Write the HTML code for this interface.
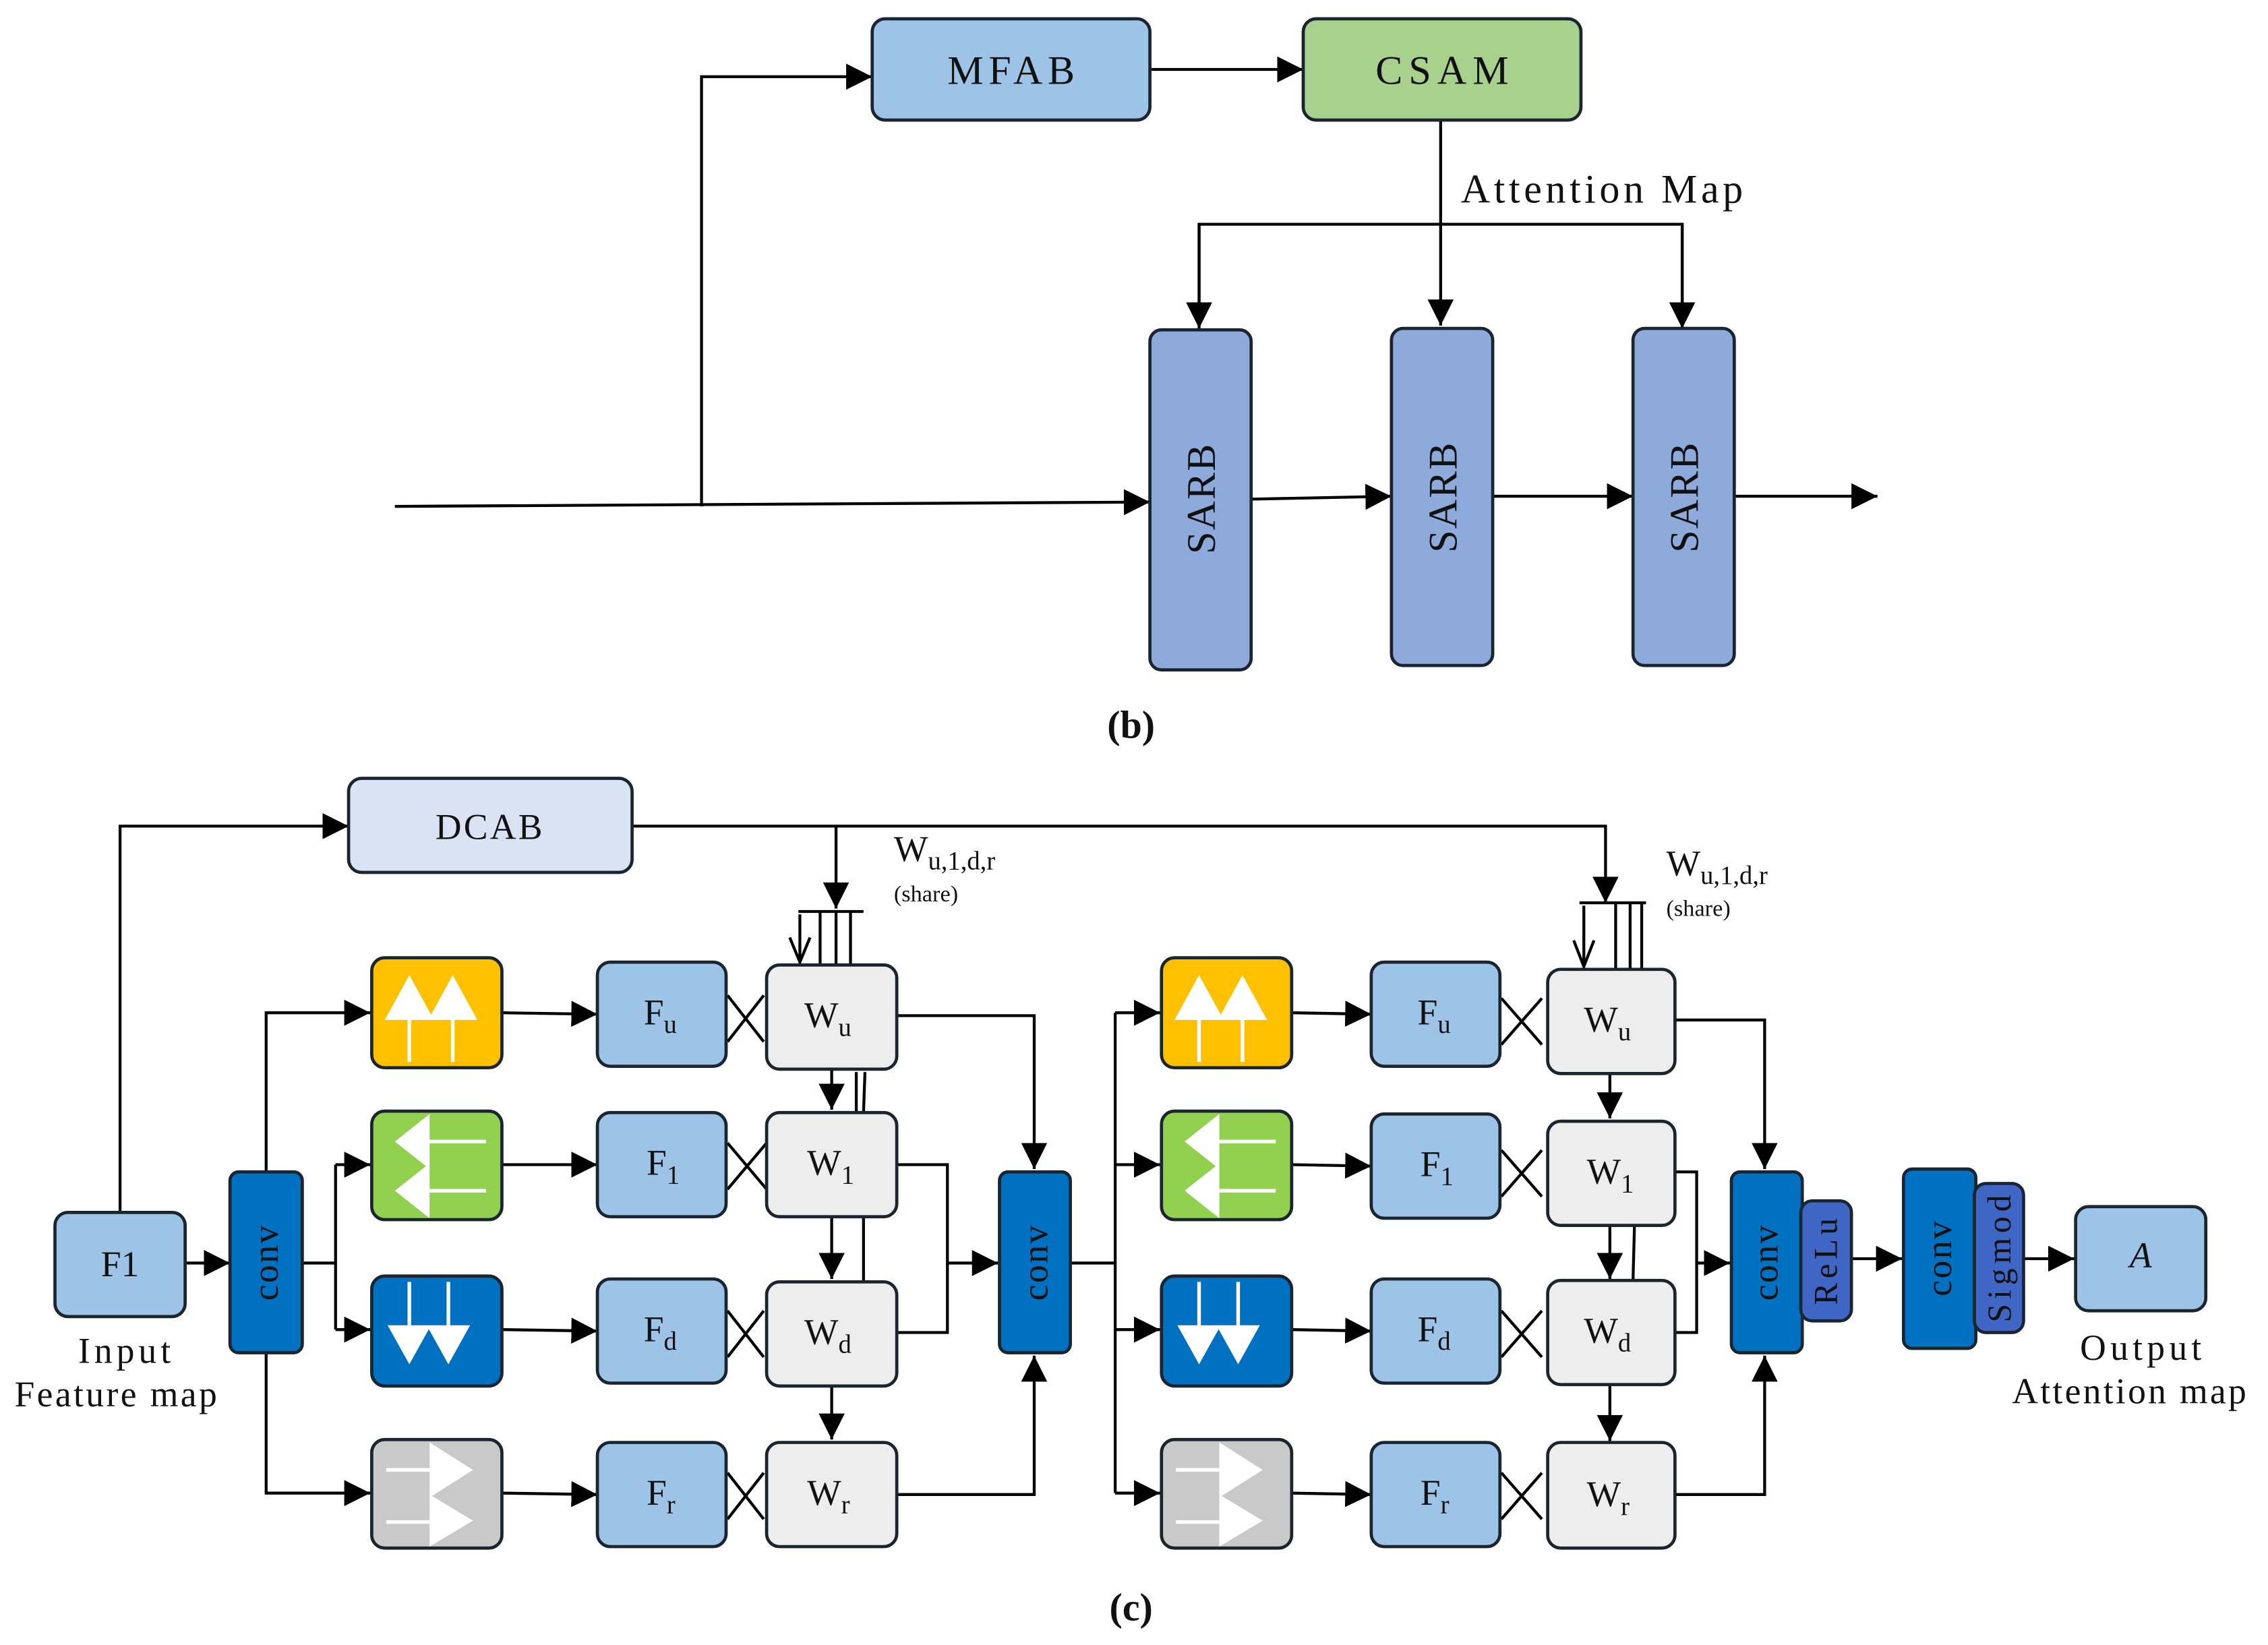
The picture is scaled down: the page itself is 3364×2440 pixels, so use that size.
<!DOCTYPE html>
<html><head><meta charset="utf-8"><style>html,body{margin:0;padding:0;background:#fff}svg{display:block}text{font-family:"Liberation Serif",serif;fill:#111}</style></head><body>
<svg width="3364" height="2440" viewBox="0 0 1568 1137" preserveAspectRatio="none" xmlns="http://www.w3.org/2000/svg">
<defs>
<marker id="b" viewBox="0 0 10 10" refX="10" refY="5" markerWidth="18" markerHeight="18" markerUnits="userSpaceOnUse" orient="auto"><path d="M0,0L10,5L0,10z" fill="#000"/></marker>
</defs>
<g fill="none" stroke="#000" stroke-width="2">
<path d="M273,350L795,347" marker-end="url(#b)"/>
<path d="M485,350V53H603" marker-end="url(#b)"/>
<path d="M795,48H901" marker-end="url(#b)"/>
<path d="M996,83V225" marker-end="url(#b)"/>
<path d="M829,225V155H1163V225" />
<path d="M829,155V227" marker-end="url(#b)"/>
<path d="M1163,155V227" marker-end="url(#b)"/>
<path d="M865,345L962,343" marker-end="url(#b)"/>
<path d="M1032,343H1129" marker-end="url(#b)"/>
<path d="M1199,343H1298" marker-end="url(#b)"/>
<path d="M83,838V571H241" marker-end="url(#b)"/>
<path d="M437,571H1110V624" marker-end="url(#b)"/>
<path d="M578,571V628" marker-end="url(#b)"/>
<path d="M552,630H597M567,630V667M578,630V667M588,630V667"/>
<path d="M553,632V665M546,648L553,665L560,648"/>
<path d="M1092,624H1138M1117,624V670M1127,624V670M1135,624V670"/>
<path d="M1095,626V668M1088,650L1095,668L1102,650"/>
<path d="M128,873H159" marker-end="url(#b)"/>
<path d="M184,810V700H256" marker-end="url(#b)"/>
<path d="M184,935V1032H256" marker-end="url(#b)"/>
<path d="M209,873H232M232,805V919"/>
<path d="M232,805H256" marker-end="url(#b)"/>
<path d="M232,919H256" marker-end="url(#b)"/>
<path d="M347,700L413,701" marker-end="url(#b)"/>
<path d="M347,805H413" marker-end="url(#b)"/>
<path d="M347,919L413,920" marker-end="url(#b)"/>
<path d="M347,1032L413,1033" marker-end="url(#b)"/>
<path d="M893,700L948,701" marker-end="url(#b)"/>
<path d="M893,805L948,806" marker-end="url(#b)"/>
<path d="M893,919L948,920" marker-end="url(#b)"/>
<path d="M893,1032L948,1033" marker-end="url(#b)"/>
<path d="M503,688L528,720M503,720L528,688M503,790L530,822M503,822L530,790M503,906L528,938M503,938L528,906M503,1018L528,1050M503,1050L528,1018"/>
<path d="M1038,690L1066,722M1038,722L1066,690M1038,795L1066,827M1038,827L1066,795M1038,906L1066,938M1038,938L1066,906M1038,1018L1066,1050M1038,1050L1066,1018"/>
<path d="M575,739V767" marker-end="url(#b)"/>
<path d="M575,841V884" marker-end="url(#b)"/>
<path d="M575,958V995" marker-end="url(#b)"/>
<path d="M592,741V769M598,741L597,769M597,841V886"/>
<path d="M1113,742V773" marker-end="url(#b)"/>
<path d="M1113,847V884" marker-end="url(#b)"/>
<path d="M1113,957V996" marker-end="url(#b)"/>
<path d="M1130,847L1129,885"/>
<path d="M620,702H715V808" marker-end="url(#b)"/>
<path d="M620,805H655V921H620"/>
<path d="M655,873H690" marker-end="url(#b)"/>
<path d="M620,1033H715V937" marker-end="url(#b)"/>
<path d="M740,873H771M771,700V1032"/>
<path d="M771,700H802" marker-end="url(#b)"/>
<path d="M771,805H802" marker-end="url(#b)"/>
<path d="M771,919H802" marker-end="url(#b)"/>
<path d="M771,1032H802" marker-end="url(#b)"/>
<path d="M1158,705H1220V808" marker-end="url(#b)"/>
<path d="M1158,810H1173V921H1158"/>
<path d="M1173,873H1196" marker-end="url(#b)"/>
<path d="M1158,1033H1220V937" marker-end="url(#b)"/>
<path d="M1280,870H1315" marker-end="url(#b)"/>
<path d="M1399,870H1434" marker-end="url(#b)"/>
</g>
<g stroke="#1a2530" stroke-width="2.2">
<rect x="603" y="13" width="192" height="70" rx="9" fill="#9dc3e6"/>
<rect x="901" y="13" width="192" height="70" rx="9" fill="#a9d18e"/>
<rect x="795" y="228" width="70" height="235" rx="8" fill="#8eaadb"/>
<rect x="962" y="227" width="70" height="233" rx="8" fill="#8eaadb"/>
<rect x="1129" y="227" width="70" height="233" rx="8" fill="#8eaadb"/>
<rect x="241" y="538" width="196" height="65" rx="9" fill="#dae3f3"/>
<rect x="38" y="838" width="90" height="72" rx="9" fill="#9dc3e6"/>
<rect x="159" y="810" width="50" height="125" rx="6" fill="#0070c0"/>
<rect x="691" y="810" width="49" height="125" rx="6" fill="#0070c0"/>
<rect x="1197" y="810" width="49" height="125" rx="6" fill="#0070c0"/>
<rect x="1245" y="830" width="35" height="83" rx="8" fill="#3f66c4"/>
<rect x="1316" y="808" width="50" height="124" rx="6" fill="#0070c0"/>
<rect x="1365" y="818" width="34" height="103" rx="8" fill="#3f66c4"/>
<rect x="1435" y="834" width="90" height="72" rx="9" fill="#9dc3e6"/>
<rect x="257" y="662" width="90" height="76" rx="9" fill="#ffc000"/>
<rect x="257" y="768" width="90" height="75" rx="9" fill="#92d050"/>
<rect x="257" y="882" width="90" height="76" rx="9" fill="#0070c0"/>
<rect x="257" y="995" width="90" height="75" rx="9" fill="#c9c9c9"/>
<rect x="803" y="662" width="90" height="76" rx="9" fill="#ffc000"/>
<rect x="803" y="768" width="90" height="75" rx="9" fill="#92d050"/>
<rect x="803" y="882" width="90" height="76" rx="9" fill="#0070c0"/>
<rect x="803" y="995" width="90" height="75" rx="9" fill="#c9c9c9"/>
<g fill="#9dc3e6">
<rect x="413" y="665" width="89" height="72" rx="9"/><rect x="413" y="769" width="89" height="72" rx="9"/><rect x="413" y="884" width="89" height="72" rx="9"/><rect x="413" y="997" width="89" height="72" rx="9"/>
<rect x="948" y="665" width="89" height="72" rx="9"/><rect x="948" y="770" width="89" height="72" rx="9"/><rect x="948" y="884" width="89" height="72" rx="9"/><rect x="948" y="997" width="89" height="72" rx="9"/>
</g>
<g fill="#ededed">
<rect x="530" y="667" width="90" height="72" rx="9"/><rect x="530" y="769" width="90" height="72" rx="9"/><rect x="530" y="886" width="90" height="72" rx="9"/><rect x="530" y="997" width="90" height="72" rx="9"/>
<rect x="1070" y="670" width="88" height="72" rx="9"/><rect x="1070" y="775" width="88" height="72" rx="9"/><rect x="1070" y="885" width="88" height="72" rx="9"/><rect x="1070" y="997" width="88" height="73" rx="9"/>
</g>
</g>
<g id="icons" fill="#fff" stroke="#fff" stroke-width="2.5">
<path d="M266,705L283,674L300,705z M296,705L313,674L330,705z" stroke="none"/>
<path d="M283,705V734M313,705V734" fill="none"/>
<path d="M273,789L297,770V808z M273,823L297,804V842z" stroke="none"/>
<path d="M297,789H336M297,823H336" fill="none"/>
<path d="M268,916L283,943L298,916z M295,916L310,943L325,916z" stroke="none"/>
<path d="M283,886V916M310,886V916" fill="none"/>
<path d="M297,997L327,1016L297,1035z M297,1033L327,1051L297,1069z" stroke="none"/>
<path d="M267,1016H297M267,1052H297" fill="none"/>
</g>
<use href="#icons" x="546" y="0"/>
<g font-size="28" text-anchor="middle">
<text x="699" y="58" textLength="88">MFAB</text>
<text x="997" y="58" textLength="92">CSAM</text>
<text x="1010" y="140" text-anchor="start" textLength="195">Attention Map</text>
<text transform="translate(830,345) rotate(-90)" textLength="76" dy="10">SARB</text>
<text transform="translate(997,344) rotate(-90)" textLength="76" dy="10">SARB</text>
<text transform="translate(1164,344) rotate(-90)" textLength="76" dy="10">SARB</text>
<text x="782" y="510" font-weight="bold" font-size="27">(b)</text>
<text x="782" y="1120" font-weight="bold" font-size="27">(c)</text>
</g>
<g font-size="25" text-anchor="middle">
<text x="338" y="580" textLength="74">DCAB</text>
<text x="83" y="882">F1</text>
<text x="86" y="942" textLength="64">Input</text>
<text x="80" y="972" textLength="140">Feature map</text>
<text x="1480" y="940" textLength="84">Output</text>
<text x="1472" y="970" textLength="162">Attention map</text>
<text x="1480" y="876" font-style="italic">A</text>
<text transform="translate(184,873) rotate(-90)" dy="8" fill="#fff" textLength="52">conv</text>
<text transform="translate(716,873) rotate(-90)" dy="8" fill="#fff" textLength="52">conv</text>
<text transform="translate(1221,873) rotate(-90)" dy="8" fill="#fff" textLength="52">conv</text>
<text transform="translate(1341,870) rotate(-90)" dy="8" fill="#fff" textLength="52">conv</text>
<text transform="translate(1262,872) rotate(-90)" dy="8" font-size="23" textLength="60">ReLu</text>
<text transform="translate(1382,870) rotate(-90)" dy="8" font-size="23" textLength="88">Sigmod</text>
</g>
<g font-size="25">
<text x="445" y="708">F<tspan font-size="18" dy="6">u</tspan></text>
<text x="447" y="812">F<tspan font-size="18" dy="6">1</tspan></text>
<text x="445" y="927">F<tspan font-size="18" dy="6">d</tspan></text>
<text x="447" y="1040">F<tspan font-size="18" dy="6">r</tspan></text>
<text x="980" y="708">F<tspan font-size="18" dy="6">u</tspan></text>
<text x="982" y="813">F<tspan font-size="18" dy="6">1</tspan></text>
<text x="980" y="927">F<tspan font-size="18" dy="6">d</tspan></text>
<text x="982" y="1040">F<tspan font-size="18" dy="6">r</tspan></text>
<text x="556" y="710">W<tspan font-size="18" dy="6">u</tspan></text>
<text x="558" y="812">W<tspan font-size="18" dy="6">1</tspan></text>
<text x="556" y="929">W<tspan font-size="18" dy="6">d</tspan></text>
<text x="558" y="1040">W<tspan font-size="18" dy="6">r</tspan></text>
<text x="1095" y="713">W<tspan font-size="18" dy="6">u</tspan></text>
<text x="1097" y="818">W<tspan font-size="18" dy="6">1</tspan></text>
<text x="1095" y="928">W<tspan font-size="18" dy="6">d</tspan></text>
<text x="1097" y="1041">W<tspan font-size="18" dy="6">r</tspan></text>
<text x="618" y="595">W<tspan font-size="18" dy="6">u,1,d,r</tspan></text>
<text x="1152" y="605">W<tspan font-size="18" dy="6">u,1,d,r</tspan></text>
<text x="618" y="623" font-size="16">(share)</text>
<text x="1152" y="633" font-size="16">(share)</text>
</g>
</svg>
</body></html>
